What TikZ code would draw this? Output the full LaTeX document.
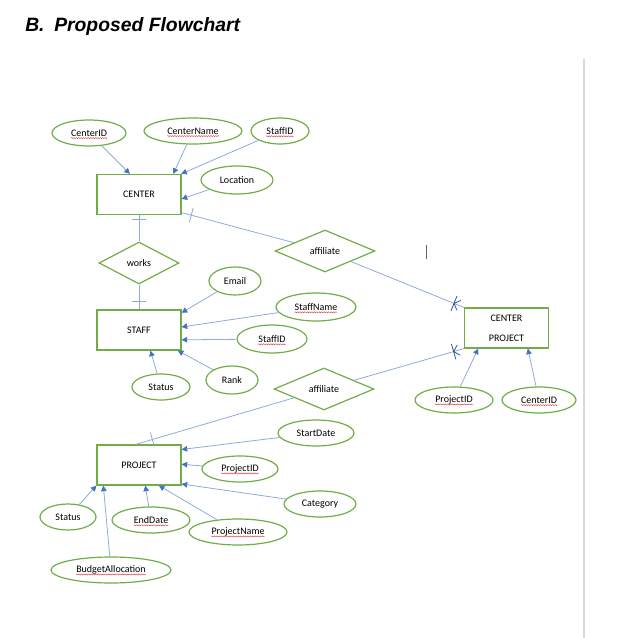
\documentclass[tikz,border=0pt]{standalone}
\usepackage{fontspec}
\setmainfont{Carlito}
\newfontfamily\titlefont{Liberation Sans}
\usetikzlibrary{shapes.geometric,arrows.meta,decorations.markings,decorations.pathmorphing}

\definecolor{erGreen}{HTML}{70AD47}
\definecolor{linkBlue}{HTML}{8FAADC}
\definecolor{tipBlue}{HTML}{4472C4}
\definecolor{footBlue}{HTML}{2F5597}
\definecolor{spellRed}{HTML}{E03030}

\tikzset{
	entity/.style={draw=erGreen, line width=0.9pt, minimum width=63pt, minimum height=30pt, inner sep=0pt, align=center, font=\fontsize{7.5}{9}\selectfont},
	attr/.style={ellipse, draw=erGreen, line width=0.9pt, inner sep=0pt, minimum width=#1, minimum height=19.5pt, font=\fontsize{7.5}{9}\selectfont},
	relation/.style={diamond, draw=erGreen, line width=0.9pt, inner sep=0pt, minimum width=#1, minimum height=31.5pt, font=\fontsize{7.5}{9}\selectfont},
	link/.style={draw=linkBlue, line width=0.6pt, -{Triangle[length=4.2pt,width=4.2pt,color=tipBlue]}},
	tie/.style={draw=linkBlue, line width=0.6pt},
	onebar/.style={postaction={decorate, decoration={markings, mark=at position #1 with {\draw[linkBlue, line width=0.6pt] (0,-5.5pt) -- (0,5.5pt);}}}},
	manyfoot/.style={postaction={decorate, decoration={markings, mark=at position -8pt with {\draw[footBlue, line width=0.6pt] (0,-6pt) -- (0,6pt) (4pt,4pt) -- (0,0) -- (4pt,-4pt);}}}},
}

% red spell-check underline
\newcommand\spellerr[1]{\tikz[baseline=(w.base)]{\node[rectangle, draw=none, inner sep=0pt, minimum size=0pt] (w) {#1};
	\draw[overlay, spellRed, line width=0.3pt, decorate, decoration={snake, amplitude=0.4pt, segment length=1.8pt}] ([yshift=-1.4pt]w.base west) -- ([yshift=-1.4pt]w.base east);}}

\begin{document}
\begin{tikzpicture}[x=0.75pt, y=-0.75pt]
	\useasboundingbox (0,0) rectangle (643,638);

	\node[anchor=base west, inner sep=0pt] (title) at (25,32) {\titlefont\bfseries\itshape\fontsize{14.5}{17}\selectfont B.\hspace{0.5em}Proposed Flowchart};

	% entities
	\node[entity] (center) at (139,194.5) {CENTER};
	\node[entity] (staff) at (139,330) {STAFF};
	\node[entity] (cproj) at (506.5,328) {CENTER\\[6pt]PROJECT};
	\node[entity] (project) at (139,465) {PROJECT};

	% relations
	\node[relation=60pt] (works) at (139,263) {works};
	\node[relation=75pt] (aff1) at (325,251) {affiliate};
	\node[relation=75pt] (aff2) at (324,389) {affiliate};

	% attributes
	\node[attr=55.5pt] (cid) at (89,133) {\spellerr{CenterID}};
	\node[attr=73.5pt] (cname) at (193,131) {\spellerr{CenterName}};
	\node[attr=43.5pt] (csid) at (280,131) {\spellerr{StaffID}};
	\node[attr=54pt, minimum height=21pt] (loc) at (237,180) {Location};
	\node[attr=39pt, minimum height=21pt] (email) at (235,281) {Email};
	\node[attr=60pt, minimum height=21pt] (sname) at (316,307) {\spellerr{StaffName}};
	\node[attr=52.5pt, minimum height=21pt] (sid) at (272,339) {\spellerr{StaffID}};
	\node[attr=43.5pt] (sstat) at (161,387) {Status};
	\node[attr=39pt, minimum height=21pt] (rank) at (232,380) {Rank};
	\node[attr=58.5pt] (cppid) at (454,400) {\spellerr{ProjectID}};
	\node[attr=55.5pt] (cpcid) at (539,400) {\spellerr{CenterID}};
	\node[attr=57pt] (sdate) at (316,433) {StartDate};
	\node[attr=57pt] (pid) at (240,469) {\spellerr{ProjectID}};
	\node[attr=54pt] (cat) at (320,504) {Category};
	\node[attr=42pt] (pstat) at (68,517) {Status};
	\node[attr=58.5pt] (edate) at (151,520) {\spellerr{EndDate}};
	\node[attr=73.5pt] (pname) at (238,532) {\spellerr{ProjectName}};
	\node[attr=90pt] (budget) at (111,570) {\spellerr{BudgetAllocation}};

	% CENTER
	\draw[link] (cid) -- (center.114);
	\draw[link] (cname) -- (center.31);
	\draw[link] (csid) -- (center.26);
	\draw[link] (loc) -- (center.-6);
	\draw[tie, onebar=3pt] (center.south) -- (works.north);
	\draw[tie, onebar=-6pt] (works.south) -- (staff.north);
	\draw[tie, onebar=7.5pt] (center.-23) -- (aff1);
	\draw[tie, manyfoot] (aff1) -- (cproj.north west);

	% STAFF
	\draw[link] (email) -- (staff.22);
	\draw[link] (sname) -- (staff.4);
	\draw[link] (sid) -- (staff.-13);
	\draw[link] (sstat) -- (staff.-61);
	\draw[link] (rank) -- (staff.-28);

	% CENTER PROJECT
	\draw[tie, onebar=13pt] (project.99) -- (aff2);
	\draw[tie, manyfoot] (aff2) -- (cproj.south west);
	\draw[link] (cppid) -- (cproj.-144);
	\draw[link] (cpcid) -- (cproj.-44);

	% PROJECT
	\draw[link] (sdate) -- (project.20);
	\draw[link] (pid) -- (project.1);
	\draw[link] (cat) -- (project.-24);
	\draw[link] (pstat) -- (project.south west);
	\draw[link] (budget) -- (project.-150);
	\draw[link] (edate) -- (project.-73);
	\draw[link] (pname) -- (project.-46);

	% cursor and page edge
	\draw[black!60, line width=0.6pt] (426,245) -- (426,259);
	\draw[black!15, line width=1pt] (584,59) -- (584,638);
\end{tikzpicture}
\end{document}
